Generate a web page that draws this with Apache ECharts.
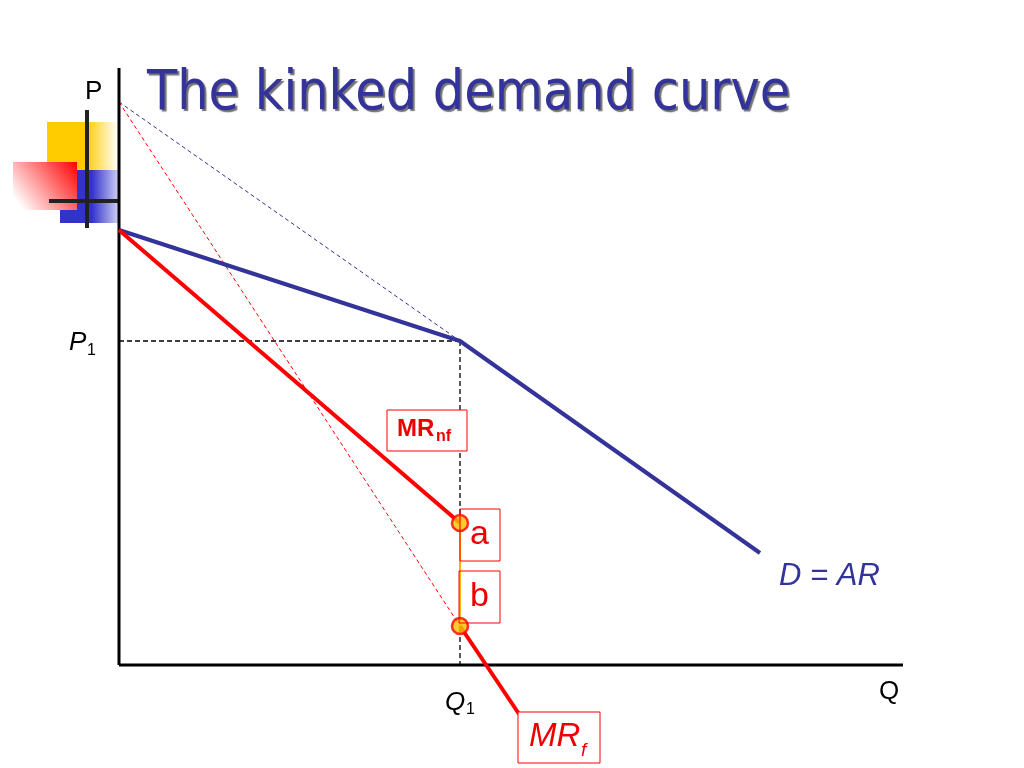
<!DOCTYPE html>
<html>
<head>
<meta charset="utf-8">
<script src="https://cdn.jsdelivr.net/npm/echarts@6/dist/echarts.min.js"></script>
<style>html,body{margin:0;padding:0;background:#fff}#c{width:1024px;height:768px}</style>
</head>
<body>
<div id="c"></div>
<script>
// Diagram coordinates (arbitrary units: quantity, price)
const demand = [[0, 435], [341, 324], [641, 112]];          // D = AR (kinked)
const demandExt = [[0, 563], [341, 324]];                    // extension of elastic part (dashed)
const mrNf = [[0, 435], [341, 142]];                         // MR non-follow
const mrFDashed = [[0, 563], [341, 39]];                     // MR follow (dashed part)
const mrF = [[341, 39], [400, -49]];                         // MR follow (solid part)
const gap = [[341, 142], [341, 39]];                         // discontinuity a-b
const points = [[341, 142], [341, 39]];                      // a, b
const p1Guide = [[0, 324], [341, 324]];
const q1Guide = [[341, 324], [341, 0]];
const yAxisLine = [[0, 0], [0, 597]];
const xAxisLine = [[0, 0], [784, 0]];

const chart = echarts.init(document.getElementById('c'));
const line = (data, color, width, type, z) => ({
  type: 'line', data, symbol: 'none', silent: true, z: z || 2,
  lineStyle: { color, width, type: type || 'solid' }, clip: false
});
const sans = 'Liberation Sans, Arial, sans-serif';
const txt = (x, y, text, font, fill, z) => ({ type: 'text', x, y, z: z || 11, style: { text, font: font + ' ' + sans, fill } });
chart.setOption({
  animation: false,
  backgroundColor: '#fff',
  title: {
    text: 'The kinked demand curve', left: 142, top: 62,
    textStyle: { fontFamily: 'DejaVu Sans Condensed', fontSize: 55, fontWeight: 'normal', color: '#333399',
      textShadowColor: 'rgba(0,0,0,0.55)', textShadowOffsetX: 2, textShadowOffsetY: 2, textShadowBlur: 1 }
  },
  grid: { left: 119, right: 121, top: 68, bottom: 0 },
  xAxis: { type: 'value', min: 0, max: 784, show: false },
  yAxis: { type: 'value', min: -103, max: 597, show: false },
  series: [
    line(demandExt, '#333399', 1, [4, 3]),
    line(mrFDashed, '#ff0000', 1, [4, 3]),
    line(p1Guide, '#000', 1.3, [5, 3]),
    line(q1Guide, '#000', 1.3, [5, 3]),
    line(yAxisLine, '#000', 3, 'solid', 3),
    line(xAxisLine, '#000', 3, 'solid', 3),
    line(demand, '#333399', 4, 'solid', 4),
    line(mrNf, '#ff0000', 4, 'solid', 5),
    line(mrF, '#ff0000', 4, 'solid', 5),
    line(gap, '#ffb000', 2, 'solid', 5),
    { type: 'scatter', data: points, symbolSize: 16, z: 6, silent: true,
      itemStyle: { color: '#f5c000', borderColor: '#ff0000', borderWidth: 2.5 } }
  ],
  graphic: [
    // decoration (top-left)
    { type: 'rect', shape: { x: 47, y: 122, width: 71, height: 48 }, z: 1,
      style: { fill: new echarts.graphic.LinearGradient(0, 0, 1, 0, [
        { offset: 0, color: '#ffcc00' }, { offset: 0.55, color: '#ffcc00' }, { offset: 1, color: '#ffffff' }]) } },
    { type: 'rect', shape: { x: 60, y: 170, width: 58, height: 53 }, z: 1,
      style: { fill: new echarts.graphic.LinearGradient(0, 0, 1, 0, [
        { offset: 0, color: '#3333cc' }, { offset: 0.55, color: '#3333cc' }, { offset: 1, color: '#ccccf5' }]) } },
    { type: 'rect', shape: { x: 13, y: 162, width: 64, height: 48 }, z: 2,
      style: { fill: new echarts.graphic.LinearGradient(1, 0, 0, 1, [
        { offset: 0, color: '#ff0000' }, { offset: 0.9, color: 'rgba(255,255,255,1)' }, { offset: 1, color: '#ffffff' }]) } },
    { type: 'line', shape: { x1: 87, y1: 110, x2: 87, y2: 228 }, z: 3, style: { stroke: '#222', lineWidth: 4 } },
    { type: 'line', shape: { x1: 49, y1: 201, x2: 118, y2: 201 }, z: 3, style: { stroke: '#222', lineWidth: 4 } },
    // axis labels
    txt(85, 79, 'P', '26px', '#000'),
    txt(879, 679, 'Q', '26px', '#000'),
    txt(69, 330, 'P', 'italic 26px', '#000'),
    txt(87, 343, '1', '16px', '#000'),
    txt(445, 690, 'Q', 'italic 26px', '#000'),
    txt(466, 702, '1', '16px', '#000'),
    // MRnf box
    { type: 'rect', shape: { x: 387, y: 410, width: 80, height: 41 }, z: 10, style: { fill: '#fff', stroke: '#ff0000', lineWidth: 1 } },
    txt(397, 417, 'MR', 'bold 24px', '#ee0000'),
    txt(436, 429, 'nf', 'bold 16px', '#ee0000'),
    // a, b boxes
    { type: 'rect', shape: { x: 460, y: 509, width: 40, height: 52 }, z: 7, style: { fill: 'rgba(255,255,255,0)', stroke: '#ff0000', lineWidth: 1 } },
    txt(470, 518, 'a', '34px', '#ee0000'),
    { type: 'rect', shape: { x: 459, y: 571, width: 41, height: 52 }, z: 7, style: { fill: 'rgba(255,255,255,0)', stroke: '#ff0000', lineWidth: 1 } },
    txt(470, 580, 'b', '34px', '#ee0000'),
    // MRf box
    { type: 'rect', shape: { x: 518, y: 712, width: 82, height: 51 }, z: 10, style: { fill: '#fff', stroke: '#ff0000', lineWidth: 1 } },
    txt(529, 720, 'MR', 'italic 33px', '#ee0000'),
    txt(581, 741, 'f', 'italic 19px', '#ee0000'),
    // D = AR
    txt(779, 561, 'D = AR', 'italic 31px', '#333399', 10)
  ]
});
</script>
</body>
</html>
